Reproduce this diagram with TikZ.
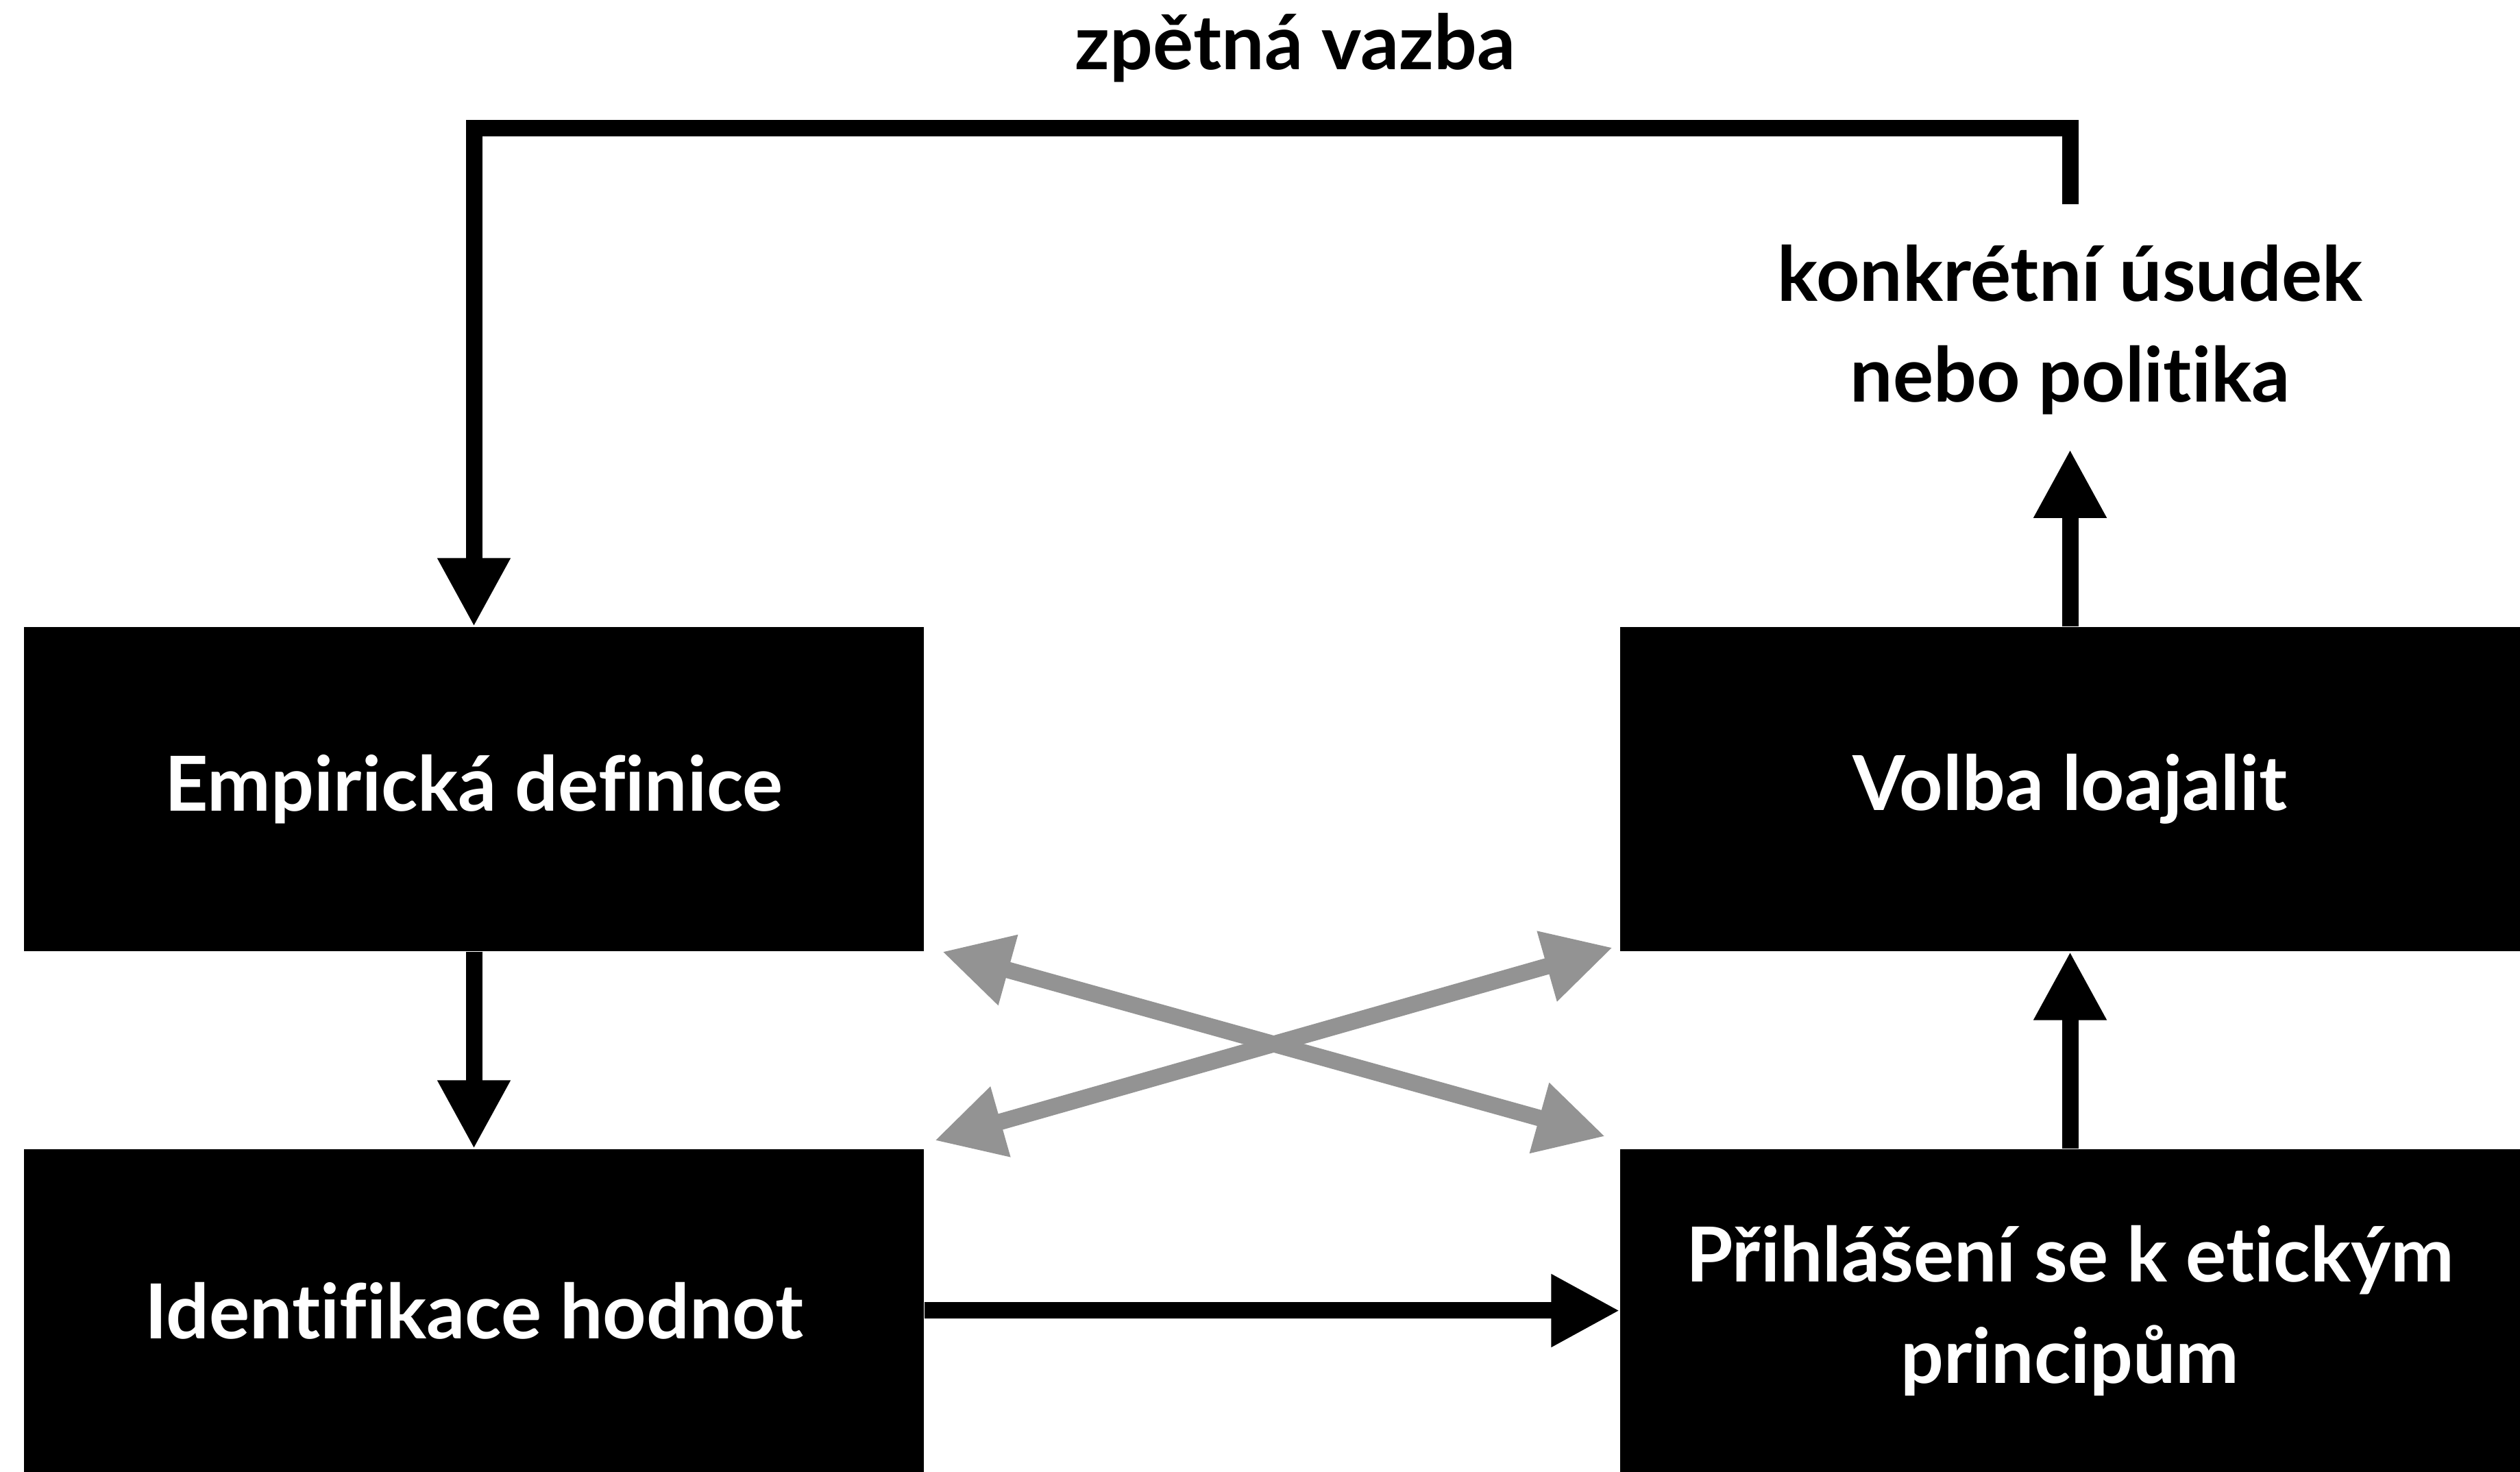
\documentclass[tikz,border=0pt]{standalone}
\usepackage{fontspec}
\setmainfont{Lato}[Ligatures=NoCommon]
\usepackage{tikz}
\usetikzlibrary{arrows.meta,positioning}

\definecolor{crossgray}{RGB}{147,147,147}

\tikzset{
  box/.style={rectangle,fill=black,text=white,minimum width=13.13cm,
    inner sep=0pt,align=center,font=\fontsize{31.5}{42}\selectfont\bfseries},
  lbl/.style={align=center,inner sep=0pt,font=\fontsize{31.5}{42}\selectfont\bfseries},
  arr/.style={line width=0.24cm,-{Triangle[length=1cm,width=1cm]}},
  xarr/.style={line width=0.24cm,crossgray,
    {Triangle[length=1cm,width=1cm]}-{Triangle[length=1cm,width=1cm]}}
}

\begin{document}
\begin{tikzpicture}
\useasboundingbox (0,0) rectangle (36.77,21.48);

\node[box,minimum height=4.73cm] at (6.915,9.965) (emp) {Empirická definice};
\node[box,minimum height=4.73cm] at (30.205,9.965) (volba) {Volba loajalit};
\node[box,minimum height=4.71cm] at (6.915,2.355) (ident) {Identifikace hodnot};
\node[box,minimum height=4.71cm] at (30.205,2.355) (prihl) {Přihlášení se k etickým\\principům};

\node[lbl] at (30.205,16.67) (usudek) {konkrétní úsudek\\nebo politika};
\node[lbl] at (18.9,20.78) (zpetna) {zpětná vazba};

% feedback loop
\coordinate (fbstart) at (30.205,18.50);
\coordinate (fbtop) at (18.9,19.61);
\draw[arr] (fbstart) |- (fbtop) -| (emp.north);

\draw[arr] (volba.north) -- ([yshift=-0.5cm]usudek.south);
\draw[arr] (emp.south) -- (ident.north);
\draw[arr] (prihl.north) -- (volba.south);
\draw[arr] (ident.east) -- (prihl.west);

% crossing links
\draw[xarr] ([xshift=0.26cm]emp.south east) -- ([xshift=-0.21cm,yshift=0.18cm]prihl.north west);
\draw[xarr] ([xshift=0.15cm,yshift=0.12cm]ident.north east) -- ([xshift=-0.10cm,yshift=0.06cm]volba.south west);
\end{tikzpicture}
\end{document}
